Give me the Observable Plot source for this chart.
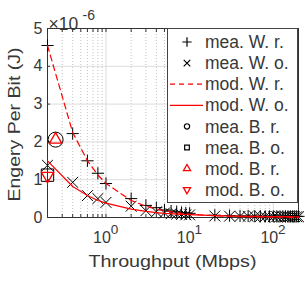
<!DOCTYPE html>
<html><head><meta charset="utf-8">
<script src="https://cdn.jsdelivr.net/npm/d3@7"></script>
<script src="https://cdn.jsdelivr.net/npm/@observablehq/plot@0.6"></script>
<style>body{margin:0;background:#fff;} svg{display:block}</style>
</head><body><div id="chart"></div>
<script>
// Data (energy values in units of 1e-6 J)
const throughput = [0.2, 0.4, 0.6, 0.8, 1, 2, 3, 4, 5, 6, 7, 8, 9, 10, 20, 30, 40, 50, 60, 70, 80, 90, 100, 110, 120, 130, 140, 150, 160, 170, 180, 190, 200];
const meaWr = [4.55, 2.22, 1.5, 1.17, 0.9, 0.5, 0.32, 0.26, 0.2, 0.17, 0.15, 0.13, 0.12, 0.11, 0.06, 0.05, 0.04, 0.04, 0.035, 0.035, 0.03, 0.03, 0.03, 0.03, 0.03, 0.03, 0.03, 0.03, 0.03, 0.03, 0.03, 0.03, 0.03];
const meaWo = [1.38, 0.93, 0.58, 0.5, 0.4, 0.3, 0.18, 0.15, 0.12, 0.1, 0.09, 0.08, 0.07, 0.07, 0.04, 0.035, 0.03, 0.03, 0.025, 0.025, 0.02, 0.02, 0.02, 0.02, 0.02, 0.02, 0.02, 0.02, 0.02, 0.02, 0.02, 0.02, 0.02];
const modWr = [4.55, 2.25, 1.5, 1.125, 0.9, 0.45, 0.3, 0.225, 0.18, 0.15, 0.13, 0.11, 0.1, 0.09, 0.045, 0.03, 0.023, 0.018, 0.015, 0.013, 0.011, 0.01, 0.009, 0.008, 0.0075, 0.007, 0.0064, 0.006, 0.0056, 0.0053, 0.005, 0.0047, 0.0045];
const modWo = [1.5, 0.82, 0.58, 0.45, 0.38, 0.22, 0.16, 0.13, 0.11, 0.1, 0.09, 0.085, 0.08, 0.075, 0.05, 0.04, 0.035, 0.032, 0.03, 0.028, 0.027, 0.026, 0.025, 0.024, 0.023, 0.022, 0.022, 0.021, 0.021, 0.02, 0.02, 0.02, 0.02];
const meaBrX = [0.25], meaBrY = [2.06];
const meaBoX = [0.2],  meaBoY = [1.12];
const modBrX = [0.25], modBrY = [2.06];
const modBoX = [0.2],  modBoY = [1.1];
const yTicks = [0, 1, 2, 3, 4, 5];
const xMajor = [1, 10, 100];
const xMinor = [0.3, 0.4, 0.5, 0.6, 0.7, 0.8, 0.9, 2, 3, 4, 5, 6, 7, 8, 9, 20, 30, 40, 50, 60, 70, 80, 90];
const legendLabels = ["mea. W. r.", "mea. W. o.", "mod. W. r.", "mod. W. o.", "mea. B. r.", "mea. B. o.", "mod. B. r.", "mod. B. o."];
const xLabel = "Throughput (Mbps)";
const yLabel = "Engery Per Bit (J)";

const tbl = throughput.map((x, i) => ({x, wr: meaWr[i], wo: meaWo[i], mr: modWr[i], mo: modWo[i]}));
const pts = (xs, ys) => xs.map((x, i) => ({x, y: ys[i]}));

const triangleDown = {draw(ctx, size) {
  const y = Math.sqrt(size / (Math.sqrt(3) * 3));
  ctx.moveTo(0, y * 2); ctx.lineTo(-Math.sqrt(3) * y, -y); ctx.lineTo(Math.sqrt(3) * y, -y); ctx.closePath();
}};

const TXT = "#383838";
const FONT = "'Liberation Sans', Arial, sans-serif";
const noText = () => "";
const chart = Plot.plot({
  width: 305, height: 283,
  marginLeft: 47, marginRight: 7, marginTop: 28, marginBottom: 66,
  style: {fontFamily: FONT, color: TXT, background: "#fff"},
  x: {type: "log", domain: [0.2, 200], axis: null},
  y: {domain: [0, 5], axis: null},
  marks: [
    Plot.ruleX(xMinor, {stroke: "#bbb", strokeDasharray: "1,2", strokeOpacity: 0.9}),
    Plot.ruleX(xMajor, {stroke: "#dcdcdc"}),
    Plot.ruleY(yTicks.slice(1, -1), {stroke: "#dcdcdc"}),
    Plot.axisY({ticks: yTicks, tickSize: 0, tickPadding: 5, fontSize: 16, label: null, fill: TXT, tickFormat: d => String(d)}),
    // inward tick marks on all four sides
    Plot.axisY({ticks: yTicks, anchor: "left", tickSize: -3, tickFormat: noText, label: null, stroke: "#333"}),
    Plot.axisY({ticks: yTicks, anchor: "right", tickSize: -3, tickFormat: noText, label: null, stroke: "#333"}),
    Plot.axisX({ticks: [...xMajor, ...xMinor], anchor: "bottom", tickSize: -3, tickFormat: noText, label: null, stroke: "#333"}),
    Plot.axisX({ticks: [...xMajor, ...xMinor], anchor: "top", tickSize: -3, tickFormat: noText, label: null, stroke: "#333"}),
    Plot.text(xMajor, {x: d => d, frameAnchor: "bottom", dy: 25, dx: -4, text: () => "10", fontSize: 16, fill: TXT}),
    Plot.text(xMajor, {x: d => d, frameAnchor: "bottom", dy: 16, dx: 8.5, text: d => String(Math.round(Math.log10(d))), fontSize: 13.5, fill: TXT}),
    Plot.text(["×10"], {frameAnchor: "top-left", textAnchor: "start", dx: 1, dy: -11, fontSize: 17.5, fill: TXT}),
    Plot.text(["-6"], {frameAnchor: "top-left", textAnchor: "start", dx: 35, dy: -18.5, fontSize: 14, fill: TXT}),
    Plot.frame({stroke: "#333"}),
    Plot.dot(tbl, {x: "x", y: "wr", symbol: "plus", r: 4, stroke: "#000", strokeWidth: 1}),
    Plot.dot(tbl, {x: "x", y: "wo", symbol: "times", r: 5, stroke: "#000", strokeWidth: 1}),
    Plot.line(tbl, {x: "x", y: "mr", stroke: "#ff0000", strokeWidth: 1.2, strokeDasharray: "6,4"}),
    Plot.line(tbl, {x: "x", y: "mo", stroke: "#ff0000", strokeWidth: 1.2}),
    Plot.dot(pts(meaBrX, meaBrY), {x: "x", y: "y", symbol: "circle", r: 7.5, stroke: "#000", fill: "none", strokeWidth: 1}),
    Plot.dot(pts(meaBoX, meaBoY), {x: "x", y: "y", symbol: "square", r: 7, stroke: "#000", fill: "none", strokeWidth: 1}),
    Plot.dot(pts(modBrX, modBrY), {x: "x", y: "y", symbol: "triangle", r: 4.5, stroke: "#ff0000", fill: "none", strokeWidth: 1.3}),
    Plot.dot(pts(modBoX, modBoY), {x: "x", y: "y", symbol: triangleDown, r: 4.5, stroke: "#ff0000", fill: "none", strokeWidth: 1.3})
  ]
});
document.getElementById("chart").appendChild(chart);

const svg = d3.select(chart);
// Axis titles
svg.append("text").attr("x", 172.5).attr("y", 267).attr("text-anchor", "middle")
  .attr("font-family", FONT).attr("font-size", 17).attr("fill", TXT)
  .attr("textLength", 168).attr("lengthAdjust", "spacingAndGlyphs").text(xLabel);
svg.append("text").attr("transform", "translate(20,124.5) rotate(-90)").attr("text-anchor", "middle")
  .attr("font-family", FONT).attr("font-size", 17).attr("fill", TXT)
  .attr("textLength", 154).attr("lengthAdjust", "spacingAndGlyphs").text(yLabel);

// Legend (inside the axes, top-right)
const lg = svg.append("g").attr("font-family", FONT).attr("font-size", 17.5).attr("fill", TXT).attr("text-anchor", "start");
lg.append("rect").attr("x", 167.5).attr("y", 28.5).attr("width", 130).attr("height", 174).attr("fill", "#fff").attr("stroke", "#444");
const sym = {
  plus: d3.symbol(d3.symbolPlus, 30),
  times: d3.symbol(d3.symbolTimes, 30),
  circle: d3.symbol(d3.symbolCircle, 22),
  square: d3.symbol(d3.symbolSquare, 22),
  tri: d3.symbol(d3.symbolTriangle, 22),
  triD: d3.symbol(triangleDown, 22)
};
const kinds = ["plus", "times", "dash", "solid", "circle", "square", "tri", "triD"];
legendLabels.forEach((lab, i) => {
  const y = 42 + i * 21.1;
  const k = kinds[i];
  if (k === "dash" || k === "solid") {
    lg.append("line").attr("x1", 170).attr("x2", 203).attr("y1", y).attr("y2", y)
      .attr("stroke", "#ff0000").attr("stroke-width", 1.2).attr("stroke-dasharray", k === "dash" ? "5,4" : null);
  } else {
    const red = k === "tri" || k === "triD";
    lg.append("path").attr("d", sym[k]()).attr("transform", `translate(187,${y})`)
      .attr("fill", "none").attr("stroke", red ? "#ff0000" : "#000").attr("stroke-width", red ? 1.3 : 1.2);
  }
  lg.append("text").attr("x", 205).attr("y", y).attr("dy", "0.35em").text(lab);
});
</script>
</body></html>
